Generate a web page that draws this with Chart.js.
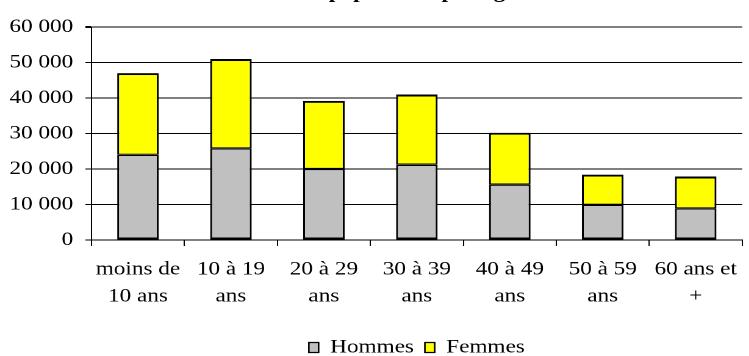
<!DOCTYPE html>
<html lang="fr">
<head>
<meta charset="utf-8">
<script src="https://cdn.jsdelivr.net/npm/chart.js@4/dist/chart.umd.min.js"></script>
<style>
  html, body { margin: 0; padding: 0; background: #fff; overflow: hidden; width: 749px; height: 356px; }
  #wrap { width: 614px; height: 367px; transform: scaleX(1.22); transform-origin: 0 0; }
</style>
</head>
<body>
<div id="wrap"><canvas id="c" width="614" height="367"></canvas></div>
<script>
// Population par tranche d'âge
const categories = [
  ['moins de', '10 ans'],
  ['10 à 19', 'ans'],
  ['20 à 29', 'ans'],
  ['30 à 39', 'ans'],
  ['40 à 49', 'ans'],
  ['50 à 59', 'ans'],
  ['60 ans et', '+']
];
const hommes = [24000, 25800, 20000, 21200, 15600, 9900, 8900];
const femmes = [23000, 25200, 19200, 19800, 14600, 8500, 9000];
const titleLines = ['Répartition de la', 'population par âge'];

const FONT = '"Liberation Serif", "Times New Roman", serif';

function fmt(v) {
  return String(v).replace(/\B(?=(\d{3})+(?!\d))/g, ' ');
}

// Title sits above the plot area; only the last line reaches the canvas
const titlePlugin = {
  id: 'topTitle',
  afterDraw(chart) {
    const ctx = chart.ctx;
    ctx.save();
    ctx.font = 'bold 19px ' + FONT;
    ctx.fillStyle = '#000';
    ctx.textAlign = 'center';
    ctx.textBaseline = 'alphabetic';
    const cx = 346;
    const last = titleLines.length - 1;
    titleLines.forEach((t, i) => {
      ctx.fillText(t, cx, -2 - (last - i) * 23);
    });
    ctx.restore();
  }
};

new Chart(document.getElementById('c'), {
  type: 'bar',
  data: {
    labels: categories,
    datasets: [
      {
        label: 'Hommes',
        data: hommes,
        backgroundColor: '#C0C0C0',
        borderColor: '#000',
        borderWidth: { left: 1.6, right: 1.6, top: 1.2, bottom: 2 },
        borderSkipped: false,
        barPercentage: 0.447,
        categoryPercentage: 1
      },
      {
        label: 'Femmes',
        data: femmes,
        backgroundColor: '#FFFF00',
        borderColor: '#000',
        borderWidth: { left: 1.6, right: 1.6, top: 2, bottom: 1.2 },
        borderSkipped: false,
        barPercentage: 0.447,
        categoryPercentage: 1
      }
    ]
  },
  options: {
    responsive: false,
    animation: false,
    devicePixelRatio: 2,
    layout: { padding: { top: 27, left: 0, right: 0, bottom: 0 } },
    plugins: {
      title: { display: false },
      tooltip: { enabled: false },
      legend: {
        display: true,
        position: 'bottom',
        fullSize: false,
        labels: {
          boxWidth: 8,
          boxHeight: 10,
          padding: 9,
          color: '#000',
          font: { family: FONT, size: 19 },
          generateLabels(chart) {
            return Chart.defaults.plugins.legend.labels.generateLabels(chart).map((l) => {
              l.lineWidth = 1.3;
              return l;
            });
          }
        }
      }
    },
    scales: {
      x: {
        stacked: true,
        afterFit(scale) { scale.height = 89; },
        border: { display: true, color: '#000', width: 1 },
        grid: {
          display: true,
          offset: true,
          drawOnChartArea: false,
          drawTicks: true,
          tickLength: 6,
          tickColor: '#000',
          color: '#000'
        },
        ticks: {
          color: '#000',
          padding: 10,
          maxRotation: 0,
          autoSkip: false,
          font: { family: FONT, size: 19, lineHeight: 1.42 }
        }
      },
      y: {
        stacked: true,
        min: 0,
        max: 60000,
        afterFit(scale) { scale.width = 75; },
        border: { display: true, color: '#000', width: 1 },
        grid: {
          drawTicks: true,
          tickLength: 5,
          tickColor: '#000',
          color: (c) => (c.tick && c.tick.value === 60000 ? '#808080' : '#000'),
          lineWidth: (c) => (c.tick && c.tick.value === 60000 ? 2 : 1)
        },
        ticks: {
          stepSize: 10000,
          color: '#000',
          padding: 10,
          font: { family: FONT, size: 19 },
          callback: (v) => fmt(v)
        }
      }
    }
  },
  plugins: [titlePlugin]
});
</script>
</body>
</html>
